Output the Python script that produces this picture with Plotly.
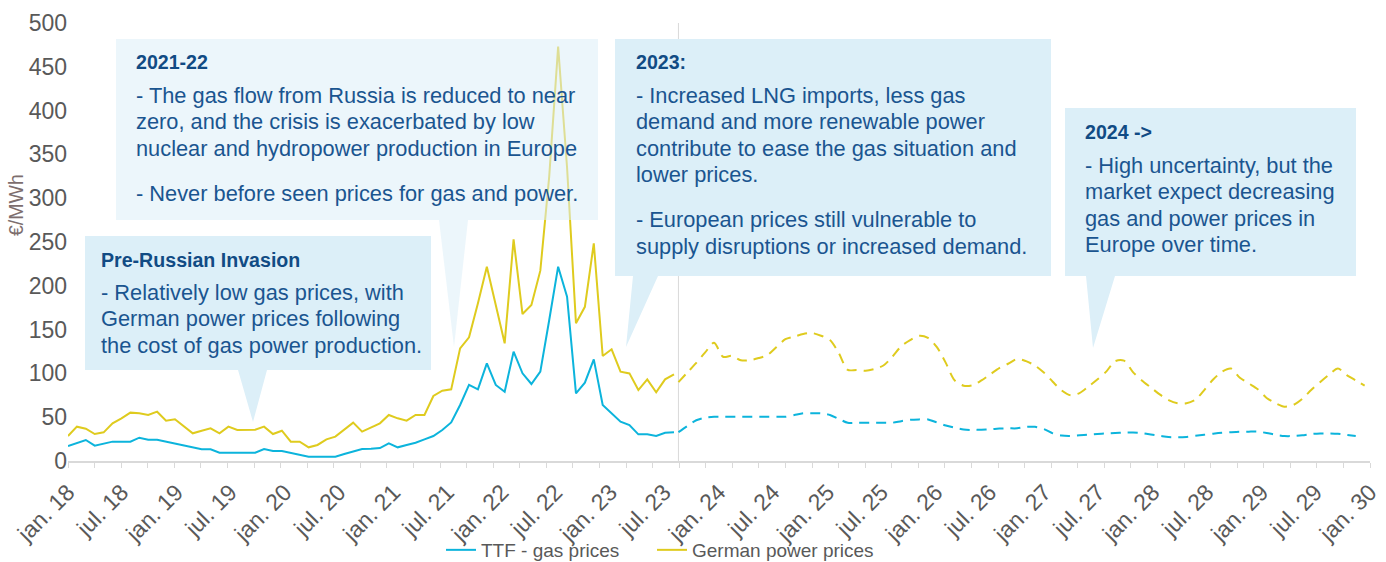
import pandas as pd
import plotly.graph_objects as go

# ---------------- data ----------------
HIST_START = "2018-01-01"
FWD_START = "2023-08-18"
STEP_DAYS = 30

power_hist = [28.5, 39.2, 36.9, 30.8, 32.7, 43, 48.7, 55.2, 54.4, 52.5, 56.3, 46,
              47.6, 39.2, 31.6, 34.6, 37.3, 31.6, 39.2, 35.4, 35.4, 35.8, 39.2, 30.8,
              34.6, 22.1, 22.1, 15.6, 18.3, 24.7, 27.8, 35.4, 43.8, 33.5, 38, 43,
              52.5, 48.7, 46, 52.5, 52.5, 74.2, 80.3, 81.8, 128.6, 141.2, 180, 221.8,
              178, 134.3, 253, 167.8, 178, 217.3, 325, 473, 335, 157.2, 176, 248.5,
              119.9, 127.5, 102, 100, 81, 93.2, 78.4, 93.2, 99]
ttf_hist = [17.1, 20.2, 24, 17.5, 20.2, 22.1, 22.1, 22.1, 26.6, 24.3, 24.3, 22.1,
            19.4, 17.1, 14.8, 13.3, 13.3, 9.5, 9.5, 9.5, 9.5, 9.5, 13.7, 11.4,
            11.4, 9.5, 6.8, 4.9, 4.9, 4.9, 4.9, 8, 11, 13.7, 14, 14.8,
            20.2, 15.6, 18.3, 20.9, 24.7, 28.5, 35.4, 44, 63.9, 86.8, 81.8, 111.5,
            86.8, 79.1, 124.8, 100.1, 87.9, 102, 161, 221.8, 187.6, 77.2, 89.4, 116,
            63.9, 54.4, 44.9, 41.1, 30.4, 30.4, 28.5, 32.3, 32.7]
power_fwd = [90, 101, 112, 124, 135, 119, 120, 115, 115, 117.5,
             121, 130, 139, 142, 145, 146, 143, 138, 123, 104,
             104, 103, 105, 109, 119, 131, 138, 143, 140.5, 130,
             112, 92, 86, 86.5, 92, 99, 106, 111, 116.5, 114,
             109, 101, 90.5, 80.5, 75, 77.5, 85, 93, 102, 114,
             114.5, 101.5, 92, 84, 76, 69.5, 66, 66, 70, 81,
             93, 102, 105.5, 95, 88.5, 82, 72, 66, 62, 64,
             71, 81, 90, 98.5, 105.5, 98, 92, 86]
ttf_fwd = [33, 40, 46.5, 49.5, 50.5, 50.5, 50.5, 50.5, 50.5, 50.5,
           50.5, 50.5, 50.5, 52.5, 54.5, 54.5, 54.5, 52.5, 48, 43.7,
           43.7, 43.7, 43.7, 43.7, 43.7, 45.5, 47, 47.5, 47.5, 44,
           40.5, 38, 36, 35.4, 35.8, 36.2, 37, 37.3, 37.3, 39,
           39, 36.5, 31.6, 29, 28.6, 29.3, 30, 30.8, 31.5, 32,
           32.5, 32.5, 31.8, 30.3, 28.8, 27.3, 27, 27.5, 28.8, 30,
           31.2, 32.2, 32.8, 33.3, 33.5, 33.5, 32, 30, 28.5, 28.5,
           29.3, 30.8, 31.4, 31.4, 31, 29.8, 28.5]

label_years = list(range(2018, 2031))
label_dates = []
label_text = []
for yr in label_years:
    label_dates.append(f"{yr}-01-01")
    label_text.append(f"jan. {yr % 100:02d}")
    if yr < 2030:
        label_dates.append(f"{yr}-07-01")
        label_text.append(f"jul. {yr % 100:02d}")
y_ticks = [0, 50, 100, 150, 200, 250, 300, 350, 400, 450, 500]

series_names = ["TTF - gas prices", "German power prices"]
BLUE = "#0cb4dc"
YELLOW = "#dfcb1e"

# ---------------- layout helpers ----------------
W, H = 1386, 562
L, R, T, B = 68, 16, 23, 101
PW, PH = W - L - R, H - T - B


def px(x):
    return (x - L) / PW


def py(y):
    return (T + PH - y) / PH


hist_x = pd.date_range(HIST_START, periods=len(power_hist), freq=f"{STEP_DAYS}D")
fwd_x_power = pd.date_range(FWD_START, periods=len(power_fwd), freq=f"{STEP_DAYS}D")
fwd_x_ttf = pd.date_range(FWD_START, periods=len(ttf_fwd), freq=f"{STEP_DAYS}D")

fig = go.Figure()
fig.add_trace(go.Scatter(x=hist_x, y=ttf_hist, mode="lines", name=series_names[0],
                         line=dict(color=BLUE, width=2), legend="legend"))
fig.add_trace(go.Scatter(x=hist_x, y=power_hist, mode="lines", name=series_names[1],
                         line=dict(color=YELLOW, width=2), legend="legend2"))
fig.add_trace(go.Scatter(x=fwd_x_ttf, y=ttf_fwd, mode="lines", showlegend=False,
                         line=dict(color=BLUE, width=2, dash="10px,7px", shape="spline", smoothing=0.8)))
fig.add_trace(go.Scatter(x=fwd_x_power, y=power_fwd, mode="lines", showlegend=False,
                         line=dict(color=YELLOW, width=2, dash="10px,7px", shape="spline", smoothing=0.8)))

FONT = "Liberation Sans, Arial, sans-serif"
BOX = "rgb(220,239,248)"
BOX_T = "rgba(220,239,248,0.55)"
TXT = "#1a5590"
TTL = "#114b84"


def callout(x0, y0, x1, y1, p1, p2, tip, color):
    path = (f"M {px(x0)},{py(y0)} L {px(x1)},{py(y0)} L {px(x1)},{py(y1)} "
            f"L {px(p2)},{py(y1)} L {px(tip[0])},{py(tip[1])} L {px(p1)},{py(y1)} "
            f"L {px(x0)},{py(y1)} Z")
    return dict(type="path", xref="paper", yref="paper", path=path,
                fillcolor=color, line=dict(width=0), layer="above")


shapes = [
    dict(type="line", xref="x", yref="paper", x0=FWD_START, x1=FWD_START, y0=0, y1=1,
         line=dict(color="#d9d9d9", width=1), layer="below"),
    callout(85, 236, 431, 370, 238, 267, (253, 422), BOX),
    callout(116, 39, 598, 220, 439, 468, (454, 347), BOX_T),
    callout(615, 39, 1051, 276, 633, 658, (626, 347), BOX),
    callout(1065, 108, 1356, 276, 1086, 1115, (1093, 348), BOX),
]

BODY_SZ = 21.8
TITLE_SZ = 19.6
LINE_GAP = 26.5


def block(x, y_first, lines, bold=False):
    out = []
    for k, line in enumerate(lines):
        text = f"<b>{line}</b>" if bold else line
        out.append(dict(xref="paper", yref="paper", x=px(x), y=py(y_first + k * LINE_GAP),
                        xanchor="left", yanchor="middle", text=text, showarrow=False,
                        align="left", borderpad=0,
                        font=dict(family=FONT, size=TITLE_SZ if bold else BODY_SZ,
                                  color=TTL if bold else TXT)))
    return out


annotations = []
annotations += block(100, 260, ["Pre-Russian Invasion"], bold=True)
annotations += block(100, 292, ["- Relatively low gas prices, with",
                                "German power prices following",
                                "the cost of gas power production."])
annotations += block(135, 62, ["2021-22"], bold=True)
annotations += block(135, 95, ["- The gas flow from Russia is reduced to near",
                               "zero, and the crisis is exacerbated by low",
                               "nuclear and hydropower production in Europe"])
annotations += block(135, 193, ["- Never before seen prices for gas and power."])
annotations += block(635, 62, ["2023:"], bold=True)
annotations += block(635, 95, ["- Increased LNG imports, less gas",
                               "demand and more renewable power",
                               "contribute to ease the gas situation and",
                               "lower prices."])
annotations += block(635, 220, ["- European prices still vulnerable to",
                                "supply disruptions or increased demand."])
annotations += block(1084, 132, ["2024 ->"], bold=True)
annotations += block(1084, 165, ["- High uncertainty, but the",
                                 "market expect decreasing",
                                 "gas and power prices in",
                                 "Europe over time."])
annotations.append(dict(xref="paper", yref="paper", x=px(16), y=py(205),
                        xanchor="center", yanchor="middle",
                        text="€/MWh", textangle=-90, showarrow=False,
                        font=dict(family=FONT, size=19.5, color="#7d6e6e")))

minor_dtick = 4383 / 49 * 86400000

legend_font = dict(family=FONT, size=19, color="#595959")

fig.update_layout(
    width=W, height=H,
    margin=dict(l=L, r=R, t=T, b=B, autoexpand=False),
    paper_bgcolor="white", plot_bgcolor="white",
    font=dict(family=FONT, color="#595959"),
    shapes=shapes,
    annotations=annotations,
    showlegend=True,
    legend=dict(orientation="h", x=px(441), xanchor="left", y=py(550), yanchor="middle",
                font=legend_font, bgcolor="rgba(0,0,0,0)"),
    legend2=dict(orientation="h", x=px(652), xanchor="left", y=py(550), yanchor="middle",
                 font=legend_font, bgcolor="rgba(0,0,0,0)"),
    xaxis=dict(type="date", range=["2018-01-01", "2030-01-01"],
               tickmode="array", tickvals=label_dates, ticktext=label_text,
               tickangle=-45, ticks="", showgrid=False, zeroline=False,
               showline=True, linecolor="#d9d9d9", linewidth=1.5,
               ticklabelstandoff=7,
               tickfont=dict(family=FONT, size=23, color="#595959"),
               minor=dict(ticks="outside", ticklen=5, tickcolor="#d9d9d9", tickwidth=1,
                          tick0="2018-01-01", dtick=minor_dtick, showgrid=False)),
    yaxis=dict(range=[0, 500], tickmode="array", tickvals=y_ticks, showgrid=False,
               zeroline=False, showline=False, ticks="",
               tickfont=dict(family=FONT, size=23, color="#595959")),
)

fig.write_html("out.html", config={"displayModeBar": False},
               post_script="document.body.style.margin='0px';document.body.style.overflow='hidden';")
